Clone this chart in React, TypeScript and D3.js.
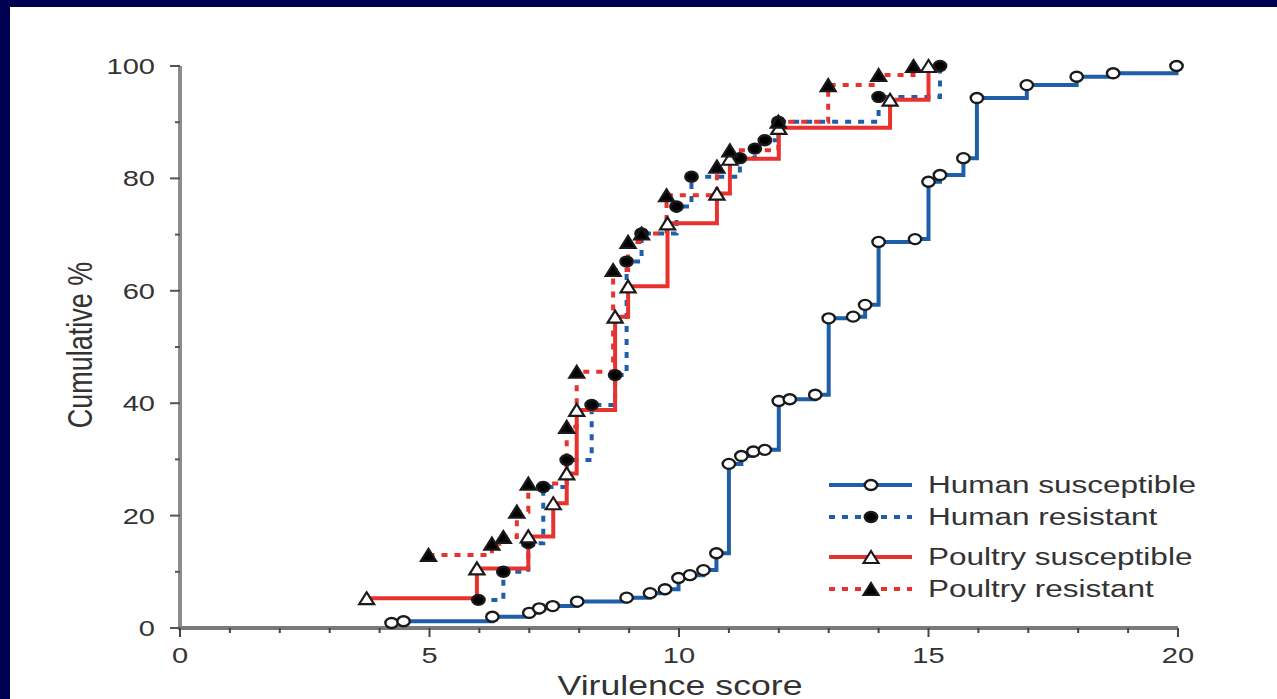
import React from "react";
import * as d3 from "d3";

type Pt = [number, number];

const humanSusceptible: Pt[] = [
  [4.24, 0.9], [4.48, 1.2], [6.26, 2.0], [7.0, 2.7], [7.2, 3.5], [7.47, 3.9], [7.96, 4.7],
  [8.95, 5.4], [9.42, 6.2], [9.72, 6.9], [9.99, 8.9], [10.22, 9.4], [10.49, 10.3], [10.75, 13.3],
  [11.0, 29.2], [11.25, 30.6], [11.49, 31.4], [11.72, 31.7], [12.0, 40.4], [12.22, 40.7],
  [12.73, 41.5], [13.0, 55.1], [13.49, 55.4], [13.73, 57.5], [14.0, 68.7], [14.73, 69.2],
  [15.0, 79.4], [15.23, 80.6], [15.7, 83.6], [15.97, 94.3], [16.97, 96.6], [17.97, 98.1],
  [18.7, 98.7], [19.97, 100],
];

const humanResistant: Pt[] = [
  [5.98, 5.0], [6.48, 10.0], [6.98, 15.1], [7.28, 25.1], [7.75, 29.9], [8.25, 39.7], [8.72, 45.0],
  [8.95, 65.2], [9.25, 70.2], [9.95, 75.0], [10.25, 80.3], [11.22, 83.6], [11.52, 85.3],
  [11.72, 86.8], [11.99, 90.1], [14.0, 94.5], [15.23, 100],
];

const poultrySusceptible: Pt[] = [
  [3.74, 5.3], [5.95, 10.6], [6.98, 16.3], [7.48, 22.2], [7.75, 27.5], [7.95, 38.8], [8.72, 55.4],
  [8.98, 60.8], [9.77, 72.0], [10.76, 77.3], [11.02, 83.5], [12.0, 89.0], [14.23, 94.0], [15.0, 100],
];

const poultryResistant: Pt[] = [
  [4.98, 13.0], [6.25, 15.0], [6.48, 16.2], [6.75, 20.7], [6.98, 25.7], [7.75, 35.8], [7.95, 45.6],
  [8.68, 63.7], [8.98, 68.7], [9.25, 70.2], [9.75, 77.0], [10.76, 82.1], [11.02, 85.0],
  [11.99, 90.1], [12.99, 96.6], [14.0, 98.4], [14.7, 100],
];

const xTickLabels = [0, 5, 10, 15, 20];
const yTickLabels = [0, 20, 40, 60, 80, 100];
const legendLabels = ["Human susceptible", "Human resistant", "Poultry susceptible", "Poultry resistant"];

const BLUE = "#1f5ea8";
const RED = "#e8322e";
const SX = 1.32;
const FONT = "'Liberation Sans', Arial, Helvetica, sans-serif";

type Marker = "openCircle" | "filledCircle" | "openTri" | "filledTri";

function MarkerShape({ kind, cx, cy }: { kind: Marker; cx: number; cy: number }) {
  if (kind === "openCircle" || kind === "filledCircle") {
    return (
      <ellipse cx={cx} cy={cy} rx={6.2} ry={5} fill={kind === "openCircle" ? "#fff" : "#000"}
        stroke="#1a1a1a" strokeWidth={2.4} />
    );
  }
  const w = 7.5, h = 12;
  const d = `M${cx - w},${cy + h / 2} L${cx},${cy - h / 2} L${cx + w},${cy + h / 2} Z`;
  return <path d={d} fill={kind === "openTri" ? "#fff" : "#000"} stroke="#1a1a1a" strokeWidth={2.2} strokeLinejoin="miter" />;
}

export default function App() {
  const x = d3.scaleLinear().domain([0, 20]).range([180, 1178]);
  const y = d3.scaleLinear().domain([0, 100]).range([628, 66]);
  const line = d3.line<Pt>().x((d) => x(d[0])).y((d) => y(d[1])).curve(d3.curveStepAfter);

  const series: { data: Pt[]; color: string; dash?: string; marker: Marker }[] = [
    { data: humanSusceptible, color: BLUE, marker: "openCircle" },
    { data: humanResistant, color: BLUE, dash: "6 7", marker: "filledCircle" },
    { data: poultrySusceptible, color: RED, marker: "openTri" },
    { data: poultryResistant, color: RED, dash: "6 7", marker: "filledTri" },
  ];

  const legendY = [485, 517, 557, 589];

  return (
    <svg width={1277} height={699} style={{ position: "absolute", left: 0, top: 0, display: "block" }}>
      <rect x={0} y={0} width={1277} height={699} fill="#000050" />
      <rect x={10} y={7} width={1267} height={692} fill="#ffffff" />

      {/* axes */}
      <line x1={x(0)} x2={x(0)} y1={y(0) + 1} y2={y(100)} stroke="#8c8c8c" strokeWidth={4} />
      <line x1={x(0) - 2} x2={x(20)} y1={y(0)} y2={y(0)} stroke="#7a7a7a" strokeWidth={4} />
      {d3.range(0, 101, 10).map((v) => (
        <line key={"yt" + v} x1={x(0) - (v % 20 === 0 ? 10 : 5)} x2={x(0)} y1={y(v)} y2={y(v)}
          stroke="#555" strokeWidth={2} />
      ))}
      {d3.range(0, 21, 1).map((v) => (
        <line key={"xt" + v} x1={x(v)} x2={x(v)} y1={y(0)} y2={y(0) + (v % 5 === 0 ? 9 : 5)}
          stroke="#444" strokeWidth={2} />
      ))}
      {yTickLabels.map((v) => (
        <text key={"yl" + v} transform={`translate(155,${y(v) + 8}) scale(${SX},1)`} textAnchor="end"
          fontFamily={FONT} fontSize={22} fill="#333">{v}</text>
      ))}
      {xTickLabels.map((v) => (
        <text key={"xl" + v} transform={`translate(${x(v)},663) scale(${SX},1)`} textAnchor="middle"
          fontFamily={FONT} fontSize={22} fill="#333">{v}</text>
      ))}
      <text transform={`translate(680,695) scale(${SX},1)`} textAnchor="middle" fontFamily={FONT}
        fontSize={27} fill="#333">Virulence score</text>
      <text transform={`translate(92,345) scale(${SX},1) rotate(-90)`} textAnchor="middle" fontFamily={FONT}
        fontSize={27} fill="#333">Cumulative %</text>

      {/* series */}
      {series.map((s, i) => (
        <path key={"s" + i} d={line(s.data) || ""} fill="none" stroke={s.color} strokeWidth={4}
          strokeDasharray={s.dash} />
      ))}
      {series.map((s, i) => (
        <g key={"m" + i}>
          {s.data.map((d, j) => (
            <MarkerShape key={j} kind={s.marker} cx={x(d[0])} cy={y(d[1])} />
          ))}
        </g>
      ))}

      {/* legend */}
      {series.map((s, i) => (
        <g key={"lg" + i}>
          <line x1={829} x2={912} y1={legendY[i]} y2={legendY[i]} stroke={s.color} strokeWidth={4}
            strokeDasharray={s.dash} />
          <MarkerShape kind={s.marker} cx={871} cy={legendY[i]} />
          <text transform={`translate(928,${legendY[i] + 8}) scale(1.37,1)`} fontFamily={FONT} fontSize={23}
            fill="#333">{legendLabels[i]}</text>
        </g>
      ))}
    </svg>
  );
}
